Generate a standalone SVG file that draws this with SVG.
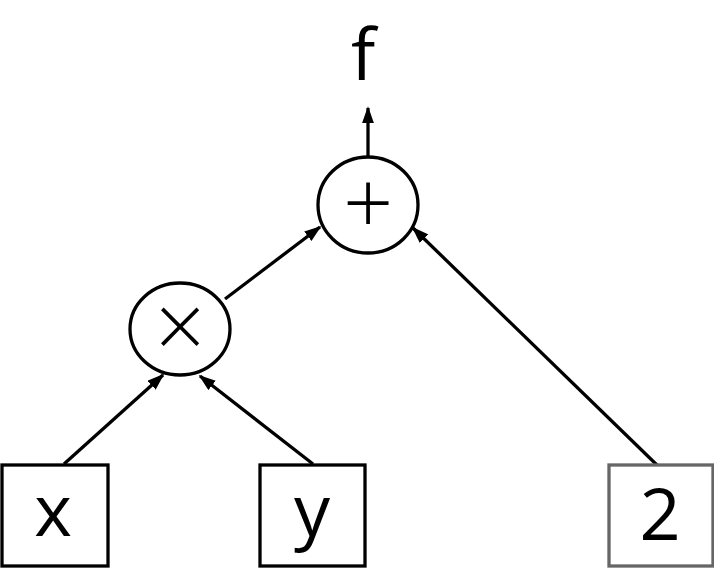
<svg xmlns="http://www.w3.org/2000/svg" width="714" height="568" viewBox="0 0 714 568">
<style>
.t{font-family:"Open Sans","Noto Sans",sans-serif;font-size:72px;fill:#000;text-anchor:middle}
.o{font-size:88px;font-weight:300}
.n{fill:#fff;stroke:#000;stroke-width:3.3}
.e{stroke:#000;stroke-width:3.3;fill:none;marker-end:url(#a)}
</style>
<defs>
<marker id="a" viewBox="0 0 10 10" refX="9" refY="5" markerWidth="17" markerHeight="12" markerUnits="userSpaceOnUse" orient="auto" preserveAspectRatio="none">
<path d="M0,0 L10,5 L0,10 z" fill="#000"/>
</marker>
</defs>
<g id="edges">
<line class="e" x1="368" y1="157" x2="368" y2="108"/>
<line class="e" x1="225" y1="299" x2="320" y2="227"/>
<line class="e" x1="64" y1="464" x2="163" y2="375"/>
<line class="e" x1="313" y1="464" x2="200" y2="376"/>
<line class="e" x1="658" y1="466" x2="413" y2="228"/>
</g>
<g id="f"><text class="t" x="363" y="80">f</text></g>
<g id="plus"><ellipse class="n" cx="368" cy="205" rx="50" ry="48"/><text class="t o" x="368" y="234">+</text></g>
<g id="times"><ellipse class="n" cx="180" cy="329" rx="50" ry="46"/><text class="t o" x="180" y="358">×</text></g>
<g id="x"><rect class="n" x="2" y="465" width="106" height="101"/><text class="t" x="53" y="536">x</text></g>
<g id="y"><rect class="n" x="260" y="465" width="105" height="101"/><text class="t" x="312" y="536">y</text></g>
<g id="two"><rect class="n" style="stroke:#666" x="609" y="465" width="104" height="101"/><text class="t" x="660" y="540">2</text></g>
</svg>
